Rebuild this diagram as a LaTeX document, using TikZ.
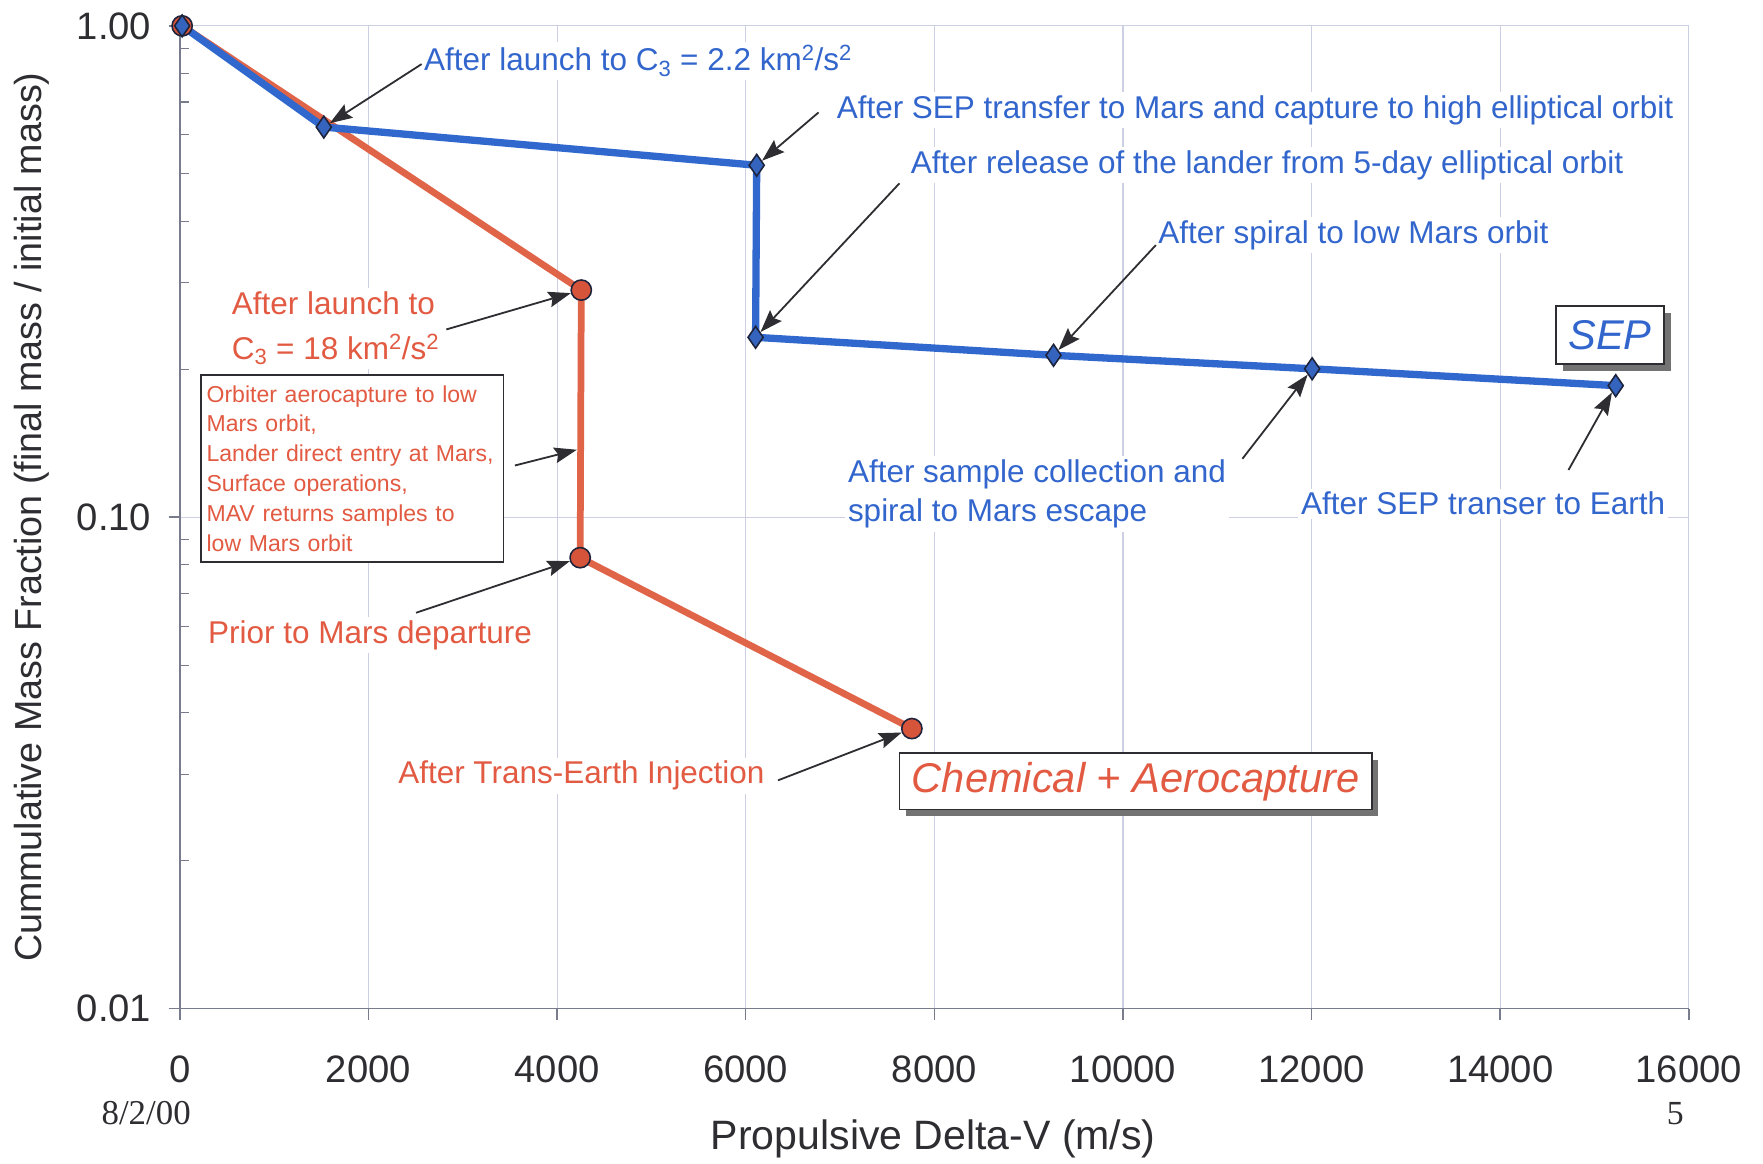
\documentclass[tikz,border=0pt]{standalone}
\usepackage{fontspec}
\setmainfont{Liberation Sans}
\newfontfamily\serifnum{Liberation Serif}
\usetikzlibrary{arrows.meta,shapes.geometric,shadows}
\definecolor{sepblue}{RGB}{50,102,205}
\definecolor{seplinec}{RGB}{48,104,206}
\definecolor{chemred}{RGB}{226,90,66}
\definecolor{chemlinec}{RGB}{224,100,72}
\definecolor{gridc}{RGB}{205,208,228}
\definecolor{axisc}{RGB}{120,124,140}
\definecolor{labc}{RGB}{45,45,50}
\definecolor{mkout}{RGB}{30,35,60}
\definecolor{redmkfill}{RGB}{214,84,58}
\definecolor{bluemkfill}{RGB}{52,100,190}
\begin{document}
\begin{tikzpicture}[x=1pt,y=-1pt,
  gridln/.style={draw=gridc,line width=1pt},
  axisln/.style={draw=axisc,line width=1.3pt},
  sepln/.style={draw=seplinec,line width=6.5pt,line join=round},
  chemln/.style={draw=chemlinec,line width=6pt,line join=round},
  bluemk/.style={diamond,draw=mkout,line width=1.4pt,fill=bluemkfill,minimum width=14pt,minimum height=20pt,inner sep=0pt},
  redmk/.style={circle,draw=mkout,line width=1.4pt,fill=redmkfill,minimum size=18pt,inner sep=0pt},
  callout/.style={draw=labc,line width=1.6pt,-{Stealth[length=20pt,width=14pt,inset=3pt]}},
  bluelab/.style={text=sepblue,fill=white,inner sep=3pt,font=\fontsize{28}{35}\selectfont,align=left},
  redlab/.style={text=chemred,fill=white,inner sep=3pt,font=\fontsize{28}{40}\selectfont,align=left},
  ticklab/.style={text=labc,font=\fontsize{34}{40}\selectfont},
  legbox/.style={draw=labc,line width=1.5pt,fill=white,font=\fontsize{37}{40}\selectfont\itshape,
     drop shadow={shadow xshift=6pt,shadow yshift=-6pt,fill=black!55,opacity=1}}
]
\useasboundingbox (0,0) rectangle (1568,1035);
\fill[white] (0,0) rectangle (1568,1035);
% grid
\foreach \k in {1,...,7} \draw[gridln] (160+167.75*\k,23) -- (160+167.75*\k,897);
\draw[gridln] (160,23) -- (1502,23) -- (1502,897);
\draw[gridln] (150,460) -- (1502,460);
% axes
\draw[axisln] (160,23) -- (160,907);
\draw[axisln] (150,897) -- (1502,897);
\draw[axisln] (150,23) -- (160,23);
\draw[axisln] (150,460) -- (160,460);
\foreach \k in {1,...,8} \draw[axisln] (160+167.75*\k,897) -- (160+167.75*\k,907);
\foreach \d in {0,1} \foreach \m in {2,...,9} {
  \pgfmathsetmacro{\yy}{23+437*(\d+1-log10(\m))}
  \draw[axisln,line width=1pt] (160,\yy) -- (168,\yy);
}
% tick labels
\foreach \k/\t in {0/0,1/2000,2/4000,3/6000,4/8000,5/10000,6/12000,7/14000,8/16000}
  \node[ticklab] (xt\k) at (160+167.75*\k,951) {\t};
\node[ticklab,anchor=east] (yt1) at (138,23) {1.00};
\node[ticklab,anchor=east] (yt2) at (138,460) {0.10};
\node[ticklab,anchor=east] (yt3) at (138,897) {0.01};
\node[ticklab,rotate=90,font=\fontsize{33.5}{36}\selectfont] (ytitle) at (28,460) {Cummulative Mass Fraction (final mass / initial mass)};
\node[ticklab,font=\fontsize{36.5}{40}\selectfont] (xtitle) at (830,1013) {Propulsive Delta-V (m/s)};
\node[text=labc,font=\serifnum\fontsize{31}{33}\selectfont] (date) at (130,990) {8/2/00};
\node[text=labc,font=\serifnum\fontsize{30}{33}\selectfont] (pnum) at (1490,990) {5};
% data points
\coordinate (s0) at (162,23);
\coordinate (b1) at (288,113);
\coordinate (b2) at (673,147);
\coordinate (b3) at (672,300);
\coordinate (b4) at (937,316);
\coordinate (b5) at (1167,328);
\coordinate (b6) at (1437,343);
\coordinate (r1) at (517,258);
\coordinate (r2) at (516,496);
\coordinate (r3) at (811,648);
% text labels (white background, drawn over grid)
\node[bluelab,anchor=west] (l1) at (374,54) {After launch to C\textsubscript{3} = 2.2 km\textsuperscript{2}/s\textsuperscript{2}};
\node[bluelab,anchor=west] (l2) at (741,98) {After SEP transfer to Mars and capture to high elliptical orbit};
\node[bluelab,anchor=west] (l3) at (807,147) {After release of the lander from 5-day elliptical orbit};
\node[bluelab,anchor=west] (l4) at (1027,209) {After spiral to low Mars orbit};
\node[bluelab,anchor=west] (l5) at (751,439.5) {After sample collection and\\spiral to Mars escape};
\node[bluelab,anchor=west] (l6) at (1154,448) {After SEP transer to Earth};
\node[redlab,anchor=west] (k1) at (203,292) {After launch to\\C\textsubscript{3} = 18 km\textsuperscript{2}/s\textsuperscript{2}};
\node[draw=labc,line width=1.5pt,fill=white,text=chemred,anchor=north west,align=left,
  text width=259pt,inner xsep=5pt,inner ysep=0pt,minimum height=166pt,
  font=\fontsize{20.5}{26.6}\selectfont] (k2) at (178,333)
  {Orbiter aerocapture to low\\Mars orbit,\\Lander direct entry at Mars,\\Surface operations,\\MAV returns samples to\\low Mars orbit};
\node[redlab,anchor=west] (k3) at (182,565) {Prior to Mars departure};
\node[redlab,anchor=west] (k4) at (351,690) {After Trans-Earth Injection};
\node[legbox,text=sepblue,minimum width=96pt,minimum height=52pt] (sepbox) at (1432,298) {SEP};
\node[legbox,text=chemred,minimum width=420pt,minimum height=50pt] (chembox) at (1010,695) {Chemical + Aerocapture};
% curves
\draw[chemln] (s0) -- (r1) -- (r2) -- (r3);
\draw[sepln] (s0) -- (b1) -- (b2) -- (b3) -- (b4) -- (b5) -- (b6);
% markers
\node[redmk] (mr0) at (s0) {};
\node[bluemk] (mb0) at (s0) {};
\node[redmk] (mr1) at (r1) {};
\node[redmk] (mr2) at (r2) {};
\node[redmk] (mr3) at (r3) {};
\foreach \i in {1,...,6} \node[bluemk] (mb\i) at (b\i) {};
% callout arrows
\coordinate (t1) at (375,57);
\coordinate (t2) at (728,100);
\coordinate (t3) at (800,163);
\coordinate (t4) at (1028,218);
\coordinate (t5) at (1105,408);
\coordinate (t6) at (1395,418);
\coordinate (u1) at (397,293);
\coordinate (u2) at (458,414);
\coordinate (u2h) at (513,400);
\coordinate (u3) at (370,545);
\coordinate (u4) at (692,694);
\draw[callout] (t1) -- (mb1);
\draw[callout] (t2) -- (mb2);
\draw[callout] (t3) -- (mb3);
\draw[callout] (t4) -- (mb4);
\draw[callout] (t5) -- (mb5);
\draw[callout] (t6) -- (mb6);
\draw[callout] (u1) -- (mr1);
\draw[callout] (u2) -- (u2h);
\draw[callout] (u3) -- (mr2);
\draw[callout] (u4) -- (mr3);
\end{tikzpicture}
\end{document}
